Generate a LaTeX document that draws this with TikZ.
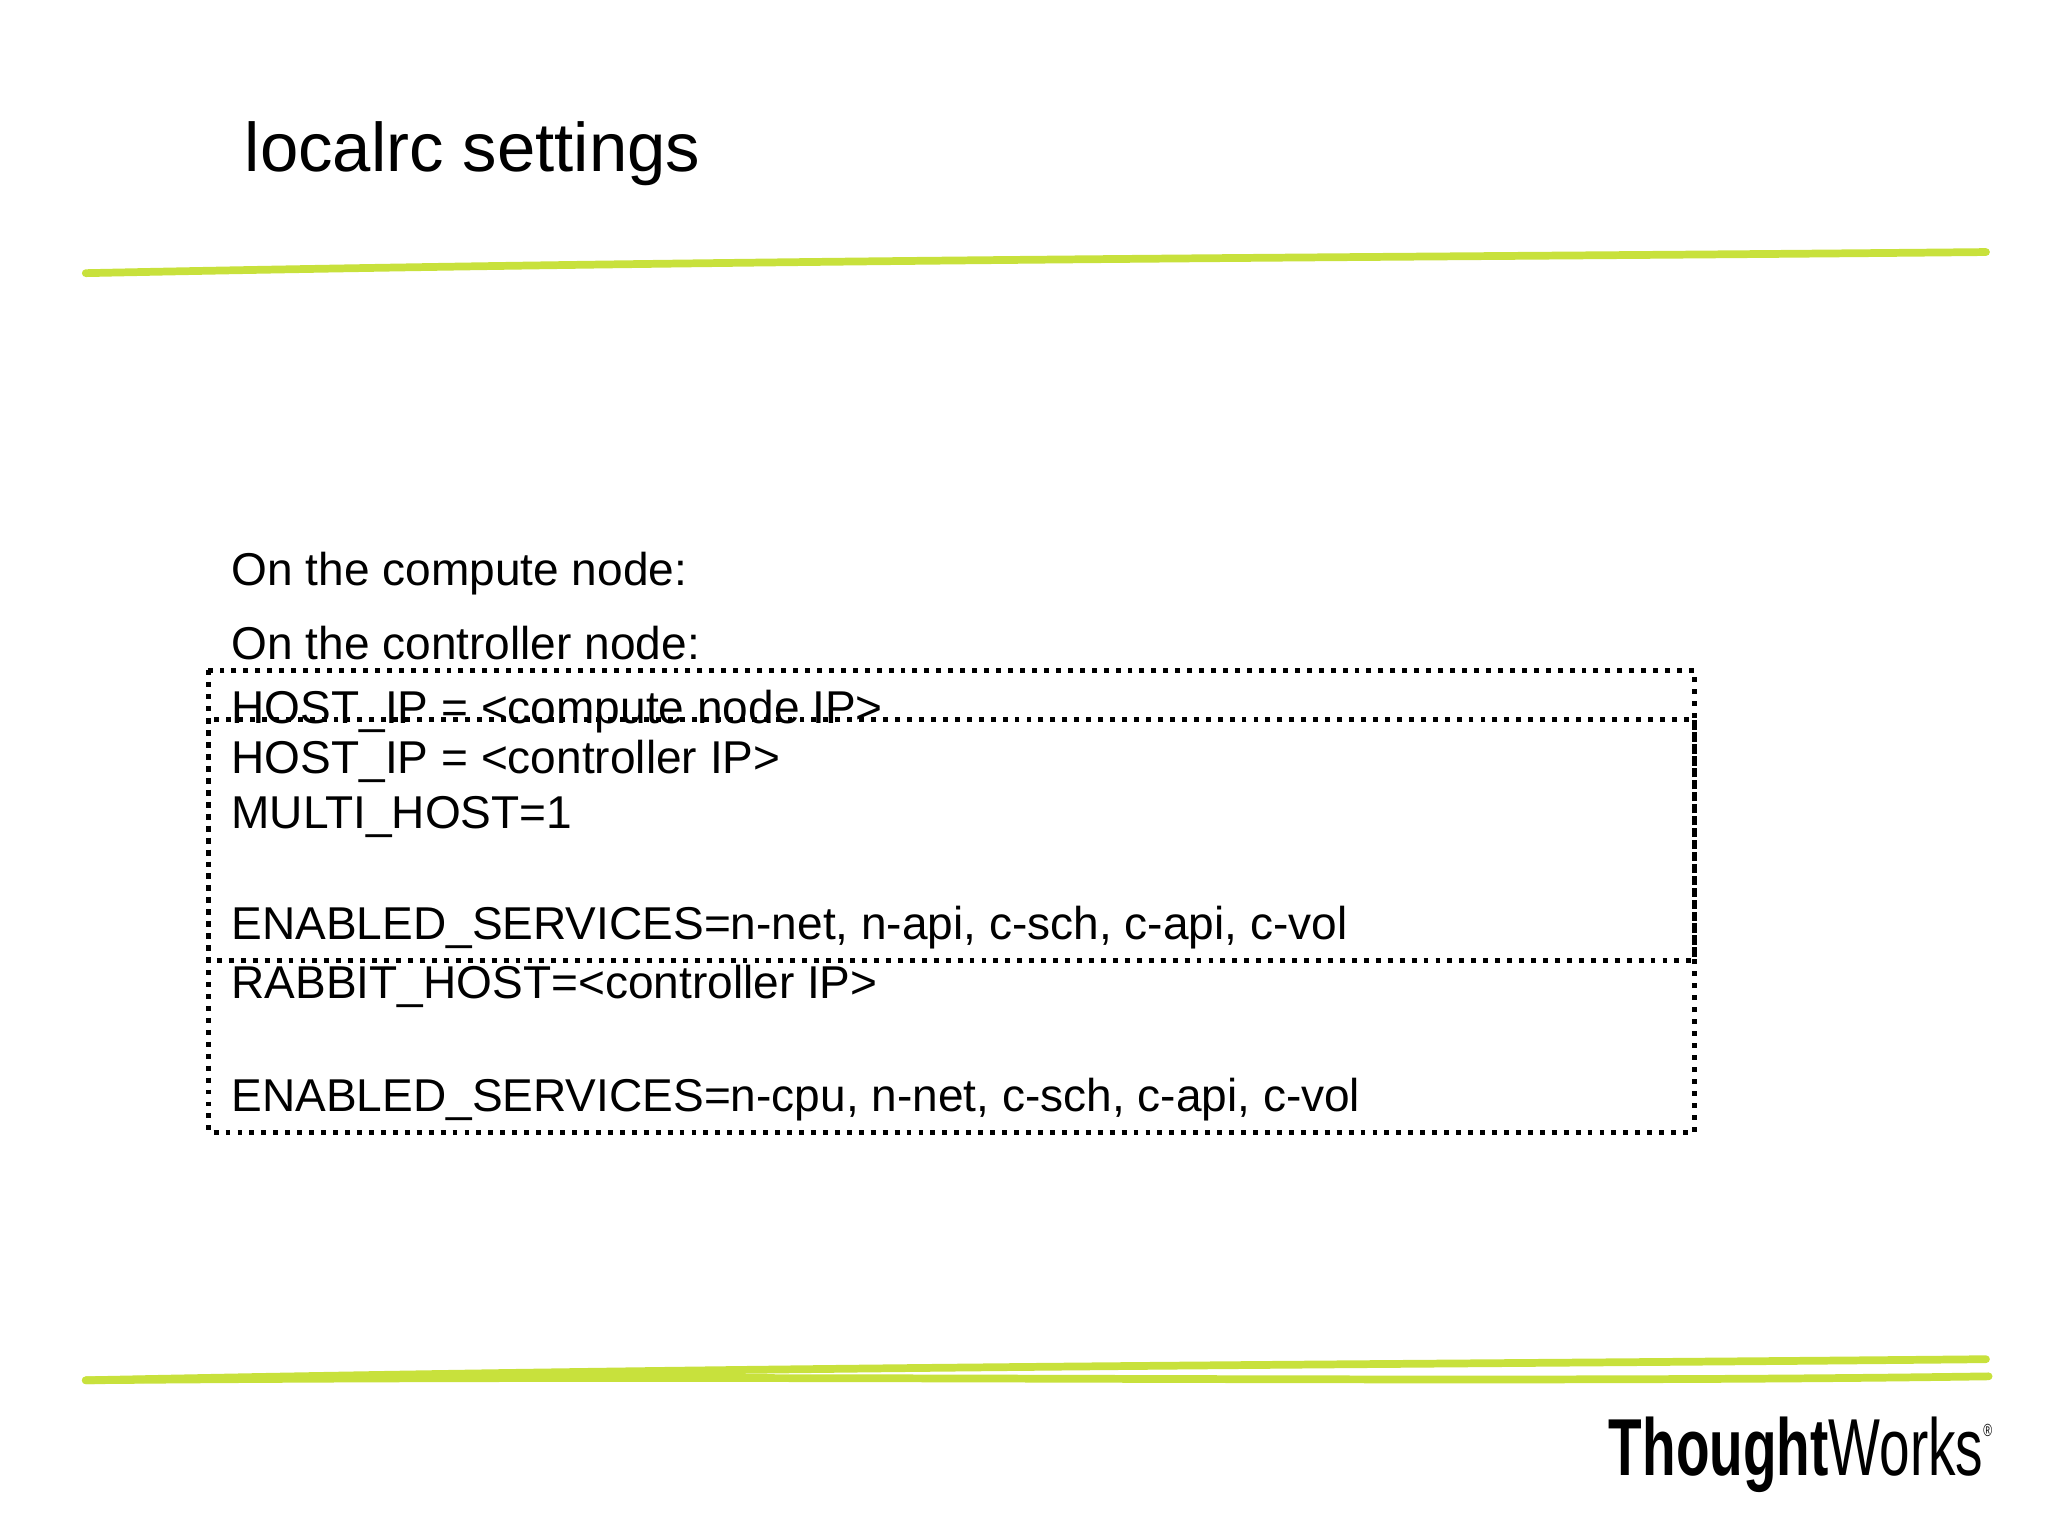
\documentclass[tikz,border=0pt]{standalone}
\usepackage{fontspec}
\setmainfont{Liberation Sans}
\definecolor{twgreen}{RGB}{200,225,60}
\begin{document}
\begin{tikzpicture}[x=0.0132cm,y=-0.0132cm,
	line/.style={anchor=base west,inner sep=0pt,font=\fontsize{13.1}{16}\selectfont},
	dotbox/.style={draw=black,line width=1.4pt,dotted},
	rule/.style={draw=twgreen,line width=2.2pt,line cap=round}
]
\useasboundingbox (0,0) rectangle (1552,1164);

\node[anchor=base west,inner sep=0pt,font=\fontsize{19.6}{24}\selectfont] (title) at (185,130) {localrc settings};

\draw[rule] (65,207) .. controls (600,196) and (1100,195) .. (1505,191);
\draw[rule] (65,1046) .. controls (600,1035) and (1100,1034) .. (1505,1030);
\draw[rule] (65,1046) .. controls (600,1041) and (1100,1049) .. (1507,1043);

\node[line] (compute) at (175,444) {On the compute node:};
\node[line] (controller) at (175,500) {On the controller node:};
\node[line] (hostc) at (175,548) {HOST\_IP = <compute node IP>};
\node[line] (hostk) at (175,586) {HOST\_IP = <controller IP>};
\node[line] (multi) at (175,628) {MULTI\_HOST=1};
\node[line] (enk) at (175,712) {ENABLED\_SERVICES=n-net, n-api, c-sch, c-api, c-vol};
\node[line] (rabbit) at (175,757) {RABBIT\_HOST=<controller IP>};
\node[line] (enc) at (175,842) {ENABLED\_SERVICES=n-cpu, n-net, c-sch, c-api, c-vol};

\draw[dotbox] (158,508) rectangle (1284,728);
\draw[dotbox] (158,545) rectangle (1284,858);

\node[anchor=base east,inner sep=0pt,font=\fontsize{23}{26}\selectfont,xscale=0.68] (logo) at (1510,1118) {\textbf{Thought}Works\raisebox{0.9ex}{\tiny\textregistered}};
\end{tikzpicture}
\end{document}
